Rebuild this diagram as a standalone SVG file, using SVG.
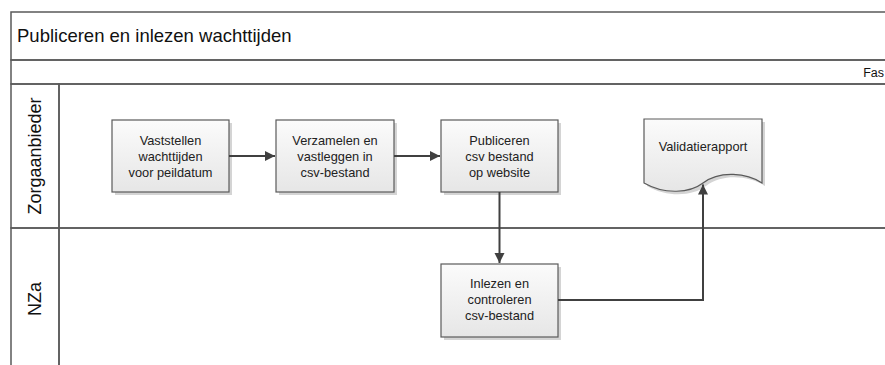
<svg xmlns="http://www.w3.org/2000/svg" width="885" height="365" viewBox="0 0 885 365">
<style>
  .frame { fill: none; stroke: #5a5a5a; stroke-width: 1.5; }
  .box { fill: url(#boxGrad); stroke: #5a5a5a; stroke-width: 1.2; }
  .shadow { fill: #d4d4d4; }
  .txt { font-family: "Liberation Sans", Arial, sans-serif; font-size: 12.8px; fill: #222; text-anchor: middle; }
  .title { font-family: "Liberation Sans", Arial, sans-serif; font-size: 18.5px; fill: #111; }
  .lane { font-family: "Liberation Sans", Arial, sans-serif; font-size: 18px; fill: #111; text-anchor: middle; }
  .phase { font-family: "Liberation Sans", Arial, sans-serif; font-size: 12.5px; fill: #111; text-anchor: end; }
  .conn { fill: none; stroke: #404040; stroke-width: 2; }
</style>
<defs>
  <linearGradient id="boxGrad" x1="0" y1="0" x2="0" y2="1">
    <stop offset="0" stop-color="#fbfbfb"/>
    <stop offset="1" stop-color="#e6e6e6"/>
  </linearGradient>
  <linearGradient id="bandGrad" x1="0" y1="0" x2="0" y2="1">
    <stop offset="0" stop-color="#ffffff"/>
    <stop offset="1" stop-color="#ededed"/>
  </linearGradient>
  <linearGradient id="laneGrad" x1="0" y1="0" x2="1" y2="0">
    <stop offset="0" stop-color="#fbfbfb"/>
    <stop offset="1" stop-color="#ececec"/>
  </linearGradient>
  <marker id="arrow" markerWidth="12" markerHeight="12" refX="10" refY="5" orient="auto" markerUnits="userSpaceOnUse">
    <path d="M0,0 L10,5 L0,10 Z" fill="#404040"/>
  </marker>
</defs>

<rect x="0" y="0" width="885" height="365" fill="#ffffff"/>

<g id="pool">
  <rect x="11" y="12" width="880" height="48" fill="url(#bandGrad)" class="frame"/>
  <text class="title" x="17" y="42">Publiceren en inlezen wachttijden</text>
  <rect x="11" y="60" width="880" height="24" fill="url(#bandGrad)" class="frame"/>
  <text class="phase" x="884" y="77">Fas</text>
</g>

<g id="lane-zorgaanbieder">
  <rect x="11" y="84" width="48" height="144" fill="url(#laneGrad)" class="frame"/>
  <rect x="59" y="84" width="832" height="144" fill="#ffffff" class="frame"/>
  <text class="lane" transform="translate(41,156) rotate(-90)">Zorgaanbieder</text>
</g>

<g id="lane-nza">
  <rect x="11" y="228" width="48" height="150" fill="url(#laneGrad)" class="frame"/>
  <rect x="59" y="228" width="832" height="150" fill="#ffffff" class="frame"/>
  <text class="lane" transform="translate(41,299) rotate(-90)">NZa</text>
</g>

<g id="node-vaststellen">
  <rect class="shadow" x="115" y="123" width="117" height="72"/>
  <rect class="box" x="112" y="120" width="117" height="72"/>
  <text class="txt" x="170.5" y="144.5">Vaststellen</text>
  <text class="txt" x="170.5" y="160.5">wachttijden</text>
  <text class="txt" x="170.5" y="176.5">voor peildatum</text>
</g>

<g id="node-verzamelen">
  <rect class="shadow" x="279" y="123" width="118" height="72"/>
  <rect class="box" x="276" y="120" width="118" height="72"/>
  <text class="txt" x="335" y="144.5">Verzamelen en</text>
  <text class="txt" x="335" y="160.5">vastleggen in</text>
  <text class="txt" x="335" y="176.5">csv-bestand</text>
</g>

<g id="node-publiceren">
  <rect class="shadow" x="444" y="123" width="117" height="72"/>
  <rect class="box" x="441" y="120" width="117" height="72"/>
  <text class="txt" x="499.5" y="144.5">Publiceren</text>
  <text class="txt" x="499.5" y="160.5">csv bestand</text>
  <text class="txt" x="499.5" y="176.5">op website</text>
</g>

<g id="node-validatierapport">
  <path class="shadow" d="M647,122 H765 V186 C750,176 723,173 706,186 C693,196 668,198 647,186 Z"/>
  <path class="box" d="M644,119 H762 V183 C747,173 720,170 703,183 C690,193 665,195 644,183 Z"/>
  <text class="txt" x="703" y="151">Validatierapport</text>
</g>

<g id="node-inlezen">
  <rect class="shadow" x="444" y="267" width="117" height="73"/>
  <rect class="box" x="441" y="264" width="117" height="73"/>
  <text class="txt" x="499.5" y="288">Inlezen en</text>
  <text class="txt" x="499.5" y="304">controleren</text>
  <text class="txt" x="499.5" y="320">csv-bestand</text>
</g>

<g id="connectors">
  <line class="conn" x1="229" y1="156" x2="275" y2="156" marker-end="url(#arrow)"/>
  <line class="conn" x1="394" y1="156" x2="440" y2="156" marker-end="url(#arrow)"/>
  <line class="conn" x1="499.5" y1="192" x2="499.5" y2="263" marker-end="url(#arrow)"/>
  <path class="conn" d="M558,300 H703 V184.5" marker-end="url(#arrow)"/>
</g>
</svg>
